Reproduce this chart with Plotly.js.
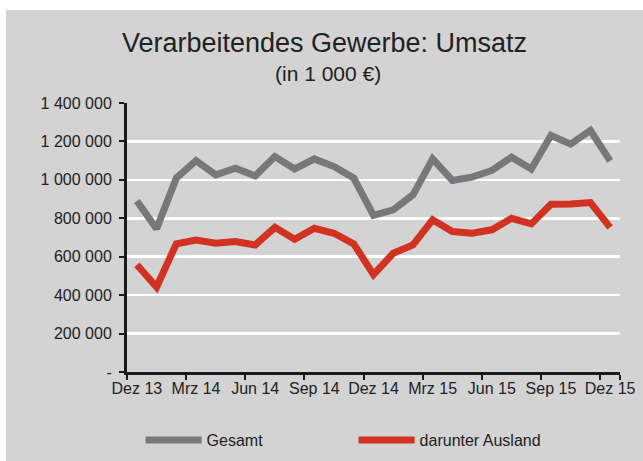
<!DOCTYPE html>
<html>
<head>
<meta charset="utf-8">
<script src="https://cdn.plot.ly/plotly-3.0.1.min.js"></script>
<style>
  html, body { margin: 0; padding: 0; background: #ffffff; }
  #chart { position: absolute; left: 6px; top: 10px; width: 637px; height: 451px; }
</style>
</head>
<body>
<div id="chart"></div>
<script>
const months = ["Dez 13","Jan 14","Feb 14","Mrz 14","Apr 14","Mai 14","Jun 14","Jul 14","Aug 14","Sep 14","Okt 14","Nov 14",
                "Dez 14","Jan 15","Feb 15","Mrz 15","Apr 15","Mai 15","Jun 15","Jul 15","Aug 15","Sep 15","Okt 15","Nov 15","Dez 15"];
const gesamt = [890000, 745000, 1009000, 1100000, 1026000, 1061000, 1021000, 1121000, 1057000, 1109000, 1069000, 1009000,
                815000, 844000, 922000, 1109000, 997000, 1014000, 1049000, 1118000, 1057000, 1231000, 1186000, 1257000, 1099000];
const ausland = [558000, 442000, 667000, 687000, 670000, 679000, 661000, 753000, 691000, 748000, 722000, 667000,
                 507000, 618000, 661000, 792000, 731000, 722000, 740000, 800000, 771000, 873000, 875000, 882000, 753000];
const xTickLabels = ["Dez 13","Mrz 14","Jun 14","Sep 14","Dez 14","Mrz 15","Jun 15","Sep 15","Dez 15"];
const yTickValues = [0, 200000, 400000, 600000, 800000, 1000000, 1200000, 1400000];
const yTickLabels = ["-", "200 000", "400 000", "600 000", "800 000", "1 000 000", "1 200 000", "1 400 000"];
const seriesNames = ["Gesamt", "darunter Ausland"];
const titleText = "Verarbeitendes Gewerbe: Umsatz";
const subtitleText = "(in 1 000 €)";

const font = "Liberation Sans, Arial, sans-serif";
const bg = "#d2d3d2";

const traces = [
  { x: months, y: gesamt, name: seriesNames[0], type: "scatter", mode: "lines",
    line: { color: "#77787a", width: 7 } },
  { x: months, y: ausland, name: seriesNames[1], type: "scatter", mode: "lines",
    line: { color: "#d13222", width: 7 } }
];

const layout = {
  width: 637, height: 451,
  paper_bgcolor: bg, plot_bgcolor: bg,
  margin: { l: 121, r: 23, t: 93, b: 89, autoexpand: false },
  font: { family: font, size: 16, color: "#222222" },
  title: { text: titleText, font: { family: font, size: 27, color: "#222222" },
           xref: "container", x: 0.5, xanchor: "center", yref: "container", y: 0.928, yanchor: "middle" },
  annotations: [
    { text: subtitleText, xref: "paper", yref: "paper", x: 0.4077, y: 1.1097, xanchor: "center", yanchor: "middle",
      showarrow: false, font: { family: font, size: 21, color: "#222222" } }
  ],
  xaxis: {
    type: "category", categoryorder: "array", categoryarray: months,
    range: [-0.5, 24.5], tickvals: xTickLabels, ticktext: xTickLabels, tickangle: 0, automargin: false,
    tickson: "boundaries", ticks: "outside", ticklen: 5, tickwidth: 2, tickcolor: "#1a1a1a",
    showline: true, linecolor: "#1a1a1a", linewidth: 3, showgrid: false, zeroline: false,
    tickfont: { family: font, size: 16, color: "#222222" }, fixedrange: true
  },
  yaxis: {
    range: [0, 1400000], tickvals: yTickValues, ticktext: yTickLabels, automargin: false,
    ticks: "outside", ticklen: 5, tickwidth: 2, tickcolor: "#1a1a1a", ticklabelstandoff: 4,
    showline: true, linecolor: "#1a1a1a", linewidth: 3,
    showgrid: true, gridcolor: "#ffffff", gridwidth: 2.5, zeroline: false,
    tickfont: { family: font, size: 16, color: "#222222" }, fixedrange: true
  },
  showlegend: true,
  legend: { orientation: "h", x: 0.0276, xanchor: "left", y: -0.2528, yanchor: "middle",
            bgcolor: "rgba(0,0,0,0)", font: { family: font, size: 16, color: "#222222" },
            entrywidth: 142, entrywidthmode: "pixels", itemwidth: 56 }
};

Plotly.newPlot("chart", traces, layout, { staticPlot: true, displayModeBar: false });
</script>
</body>
</html>
